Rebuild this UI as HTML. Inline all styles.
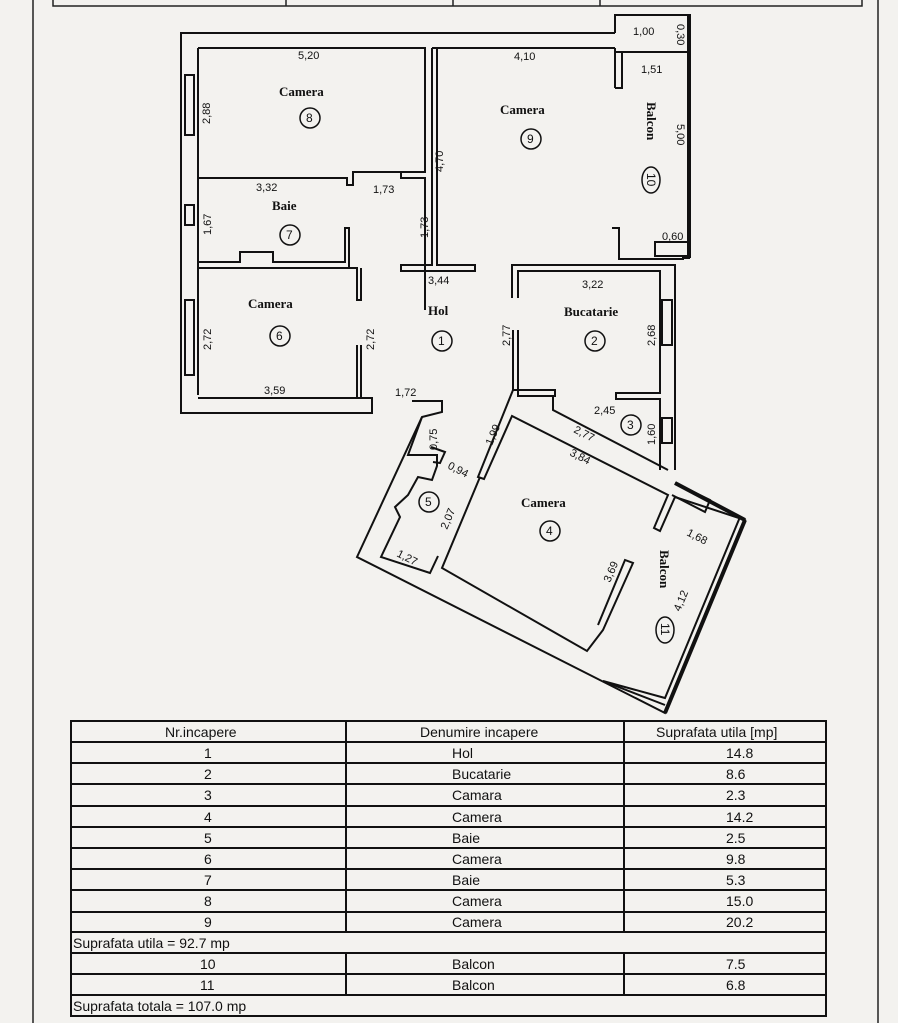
<!DOCTYPE html>
<html><head><meta charset="utf-8"><style>
html,body{margin:0;padding:0;background:#f3f2ef;}
svg{display:block}
text{font-family:"Liberation Sans",sans-serif;fill:#111}
.b{font-family:"Liberation Serif",serif;font-weight:bold;font-size:13px}
.d{font-size:11px}
.n{font-size:12px}
.t{font-size:14px}
</style></head><body>
<svg width="898" height="1023" viewBox="0 0 898 1023" xmlns="http://www.w3.org/2000/svg">
<rect width="898" height="1023" fill="#f3f2ef"/>
<g stroke="#222" stroke-width="1.5" fill="none">
<line x1="33" y1="0" x2="33" y2="1023"/>
<line x1="878" y1="0" x2="878" y2="1023"/>
<polyline points="53,0 53,6 862,6 862,0"/>
<line x1="286" y1="0" x2="286" y2="6"/><line x1="453" y1="0" x2="453" y2="6"/><line x1="600" y1="0" x2="600" y2="6"/>
</g>
<g stroke="#111" stroke-width="2" fill="none" stroke-linejoin="miter">
<polyline points="615,33 181,33 181,413 372,413 372,398 357,398"/>
<polyline points="615,33 615,15 690,15 690,258"/>
<line x1="615" y1="48" x2="615" y2="88"/><polyline points="615,88 622,88 622,52 690,52"/><line x1="615" y1="52" x2="690" y2="52"/>
<polyline points="198,48 425,48 425,172 353,172 353,185 347,185 347,178 198,178"/>
<line x1="198" y1="48" x2="198" y2="395"/>
<polyline points="401,172 401,178 425,178 425,310"/>
<rect x="185" y="75" width="9" height="60"/><rect x="185" y="205" width="9" height="20"/><rect x="185" y="300" width="9" height="75"/>
<polyline points="198,262 240,262 240,252 273,252 273,262 345,262 345,228 349,228 349,268 357,268"/>
<polyline points="198,268 357,268 357,300 361,300 361,268"/>
<polyline points="357,345 357,398 198,398"/><polyline points="361,345 361,398"/>
<polyline points="432,48 615,48"/>
<polyline points="432,48 432,265 401,265 401,271 475,271 475,265 437,265 437,48"/>
<polyline points="612,228 619,228 619,259 683,259 683,258 690,258"/>
<rect x="655" y="242" width="33" height="14"/>
<line x1="689" y1="15" x2="689" y2="258" stroke-width="4"/>
<polyline points="512,298 512,265 675,265 675,470"/>
<polyline points="518,298 518,271 660,271 660,393 616,393 616,399 660,399 660,470"/>
<rect x="662" y="300" width="10" height="45"/><rect x="662" y="418" width="10" height="25"/>
<polyline points="513,330 513,390 555,390 555,396 518,396 518,330"/>
<polyline points="513,390 478,477 484,479 512,416 668,495 654,528 660,531 675,497 745,520"/>
<polyline points="518,396 553,396 553,410 668,470"/>
<polyline points="412,401 442,401 442,412 422,417 357,557 665,713 745,520 740,517 665,698 603,681"/>
<polyline points="480,477 442,568 587,651 603,630 633,563 625,560 598,625"/>
<line x1="675" y1="483" x2="745" y2="520" stroke-width="4"/>
<line x1="745" y1="520" x2="665" y2="713" stroke-width="4"/>
<polyline points="675,483 710,500 705,512 672,495"/>
<line x1="603" y1="681" x2="665" y2="705"/>
<polyline points="422,417 408,455 437,455 437,466 432,480 418,477 408,495 395,507 400,517 381,557 430,573 438,556"/>
<polyline points="431,447 445,452 440,463 433,462"/>
</g>
<g fill="none" stroke="#111" stroke-width="1.5">
<circle cx="310" cy="118" r="10"/><circle cx="531" cy="139" r="10"/><circle cx="290" cy="235" r="10"/>
<circle cx="280" cy="336" r="10"/><circle cx="442" cy="341" r="10"/><circle cx="595" cy="341" r="10"/>
<circle cx="631" cy="425" r="10"/><circle cx="550" cy="531" r="10"/><circle cx="429" cy="502" r="10"/>
<ellipse cx="651" cy="180" rx="9" ry="13"/><ellipse cx="665" cy="630" rx="9" ry="13"/>
</g>
<g>
<text class="b" x="279" y="96">Camera</text><text class="n" x="306" y="122">8</text>
<text class="b" x="500" y="114">Camera</text><text class="n" x="527" y="143">9</text>
<text class="b" x="272" y="210">Baie</text><text class="n" x="286" y="239">7</text>
<text class="b" x="248" y="308">Camera</text><text class="n" x="276" y="340">6</text>
<text class="b" x="428" y="315">Hol</text><text class="n" x="438" y="345">1</text>
<text class="b" x="564" y="316">Bucatarie</text><text class="n" x="591" y="345">2</text>
<text class="n" x="627" y="429">3</text>
<text class="b" x="521" y="507">Camera</text><text class="n" x="546" y="535">4</text>
<text class="n" x="425" y="506">5</text>
<text class="b" transform="translate(647,102) rotate(90)">Balcon</text>
<text class="n" transform="translate(647,173) rotate(90)">10</text>
<text class="b" transform="translate(660,550) rotate(90)">Balcon</text>
<text class="n" transform="translate(661,623) rotate(90)">11</text>
<text class="d" x="298" y="59">5,20</text><text class="d" x="514" y="60">4,10</text>
<text class="d" x="633" y="35">1,00</text><text class="d" x="641" y="73">1,51</text>
<text class="d" x="256" y="191">3,32</text><text class="d" x="373" y="193">1,73</text>
<text class="d" x="428" y="284">3,44</text><text class="d" x="582" y="288">3,22</text>
<text class="d" x="264" y="394">3,59</text><text class="d" x="395" y="396">1,72</text>
<text class="d" x="594" y="414">2,45</text><text class="d" x="662" y="240">0,60</text>
<text class="d" transform="translate(210,124) rotate(-90)">2,88</text>
<text class="d" transform="translate(211,235) rotate(-90)">1,67</text>
<text class="d" transform="translate(211,350) rotate(-90)">2,72</text>
<text class="d" transform="translate(374,350) rotate(-90)">2,72</text>
<text class="d" transform="translate(443,172) rotate(-90)">4,70</text>
<text class="d" transform="translate(428,238) rotate(-90)">1,73</text>
<text class="d" transform="translate(510,346) rotate(-90)">2,77</text>
<text class="d" transform="translate(655,346) rotate(-90)">2,68</text>
<text class="d" transform="translate(677,124) rotate(90)">5,00</text>
<text class="d" transform="translate(677,24) rotate(90)">0,30</text>
<text class="d" transform="translate(655,445) rotate(-90)">1,60</text>
<text class="d" transform="translate(573,432) rotate(27)">2,77</text>
<text class="d" transform="translate(569,455) rotate(27)">3,84</text>
<text class="d" transform="translate(686,535) rotate(27)">1,68</text>
<text class="d" transform="translate(492,446) rotate(-67)">1,99</text>
<text class="d" transform="translate(447,530) rotate(-67)">2,07</text>
<text class="d" transform="translate(610,583) rotate(-67)">3,69</text>
<text class="d" transform="translate(680,612) rotate(-67)">4,12</text>
<text class="d" transform="translate(447,468) rotate(27)">0,94</text>
<text class="d" transform="translate(396,556) rotate(27)">1,27</text>
<text class="d" transform="translate(437,450) rotate(-90)">0,75</text>
</g>
<g stroke="#111" stroke-width="2" fill="none">
<rect x="71" y="721" width="755" height="295"/>
<line x1="71" y1="742" x2="826" y2="742"/><line x1="71" y1="763" x2="826" y2="763"/><line x1="71" y1="784" x2="826" y2="784"/>
<line x1="71" y1="806" x2="826" y2="806"/><line x1="71" y1="827" x2="826" y2="827"/><line x1="71" y1="848" x2="826" y2="848"/>
<line x1="71" y1="869" x2="826" y2="869"/><line x1="71" y1="890" x2="826" y2="890"/><line x1="71" y1="912" x2="826" y2="912"/>
<line x1="71" y1="932" x2="826" y2="932"/><line x1="71" y1="953" x2="826" y2="953"/><line x1="71" y1="974" x2="826" y2="974"/>
<line x1="71" y1="995" x2="826" y2="995"/>
<line x1="346" y1="721" x2="346" y2="932"/><line x1="624" y1="721" x2="624" y2="932"/>
<line x1="346" y1="953" x2="346" y2="995"/><line x1="624" y1="953" x2="624" y2="995"/>
</g>
<g>
<text class="t" x="165" y="737">Nr.incapere</text><text class="t" x="420" y="737">Denumire incapere</text><text class="t" x="656" y="737">Suprafata utila [mp]</text>
<text class="t" x="204" y="758">1</text><text class="t" x="452" y="758">Hol</text><text class="t" x="726" y="758">14.8</text>
<text class="t" x="204" y="779">2</text><text class="t" x="452" y="779">Bucatarie</text><text class="t" x="726" y="779">8.6</text>
<text class="t" x="204" y="800">3</text><text class="t" x="452" y="800">Camara</text><text class="t" x="726" y="800">2.3</text>
<text class="t" x="204" y="822">4</text><text class="t" x="452" y="822">Camera</text><text class="t" x="726" y="822">14.2</text>
<text class="t" x="204" y="843">5</text><text class="t" x="452" y="843">Baie</text><text class="t" x="726" y="843">2.5</text>
<text class="t" x="204" y="864">6</text><text class="t" x="452" y="864">Camera</text><text class="t" x="726" y="864">9.8</text>
<text class="t" x="204" y="885">7</text><text class="t" x="452" y="885">Baie</text><text class="t" x="726" y="885">5.3</text>
<text class="t" x="204" y="906">8</text><text class="t" x="452" y="906">Camera</text><text class="t" x="726" y="906">15.0</text>
<text class="t" x="204" y="927">9</text><text class="t" x="452" y="927">Camera</text><text class="t" x="726" y="927">20.2</text>
<text class="t" x="73" y="948">Suprafata  utila  =  92.7  mp</text>
<text class="t" x="200" y="969">10</text><text class="t" x="452" y="969">Balcon</text><text class="t" x="726" y="969">7.5</text>
<text class="t" x="200" y="990">11</text><text class="t" x="452" y="990">Balcon</text><text class="t" x="726" y="990">6.8</text>
<text class="t" x="73" y="1011">Suprafata  totala  =  107.0  mp</text>
</g>
</svg>
</body></html>
